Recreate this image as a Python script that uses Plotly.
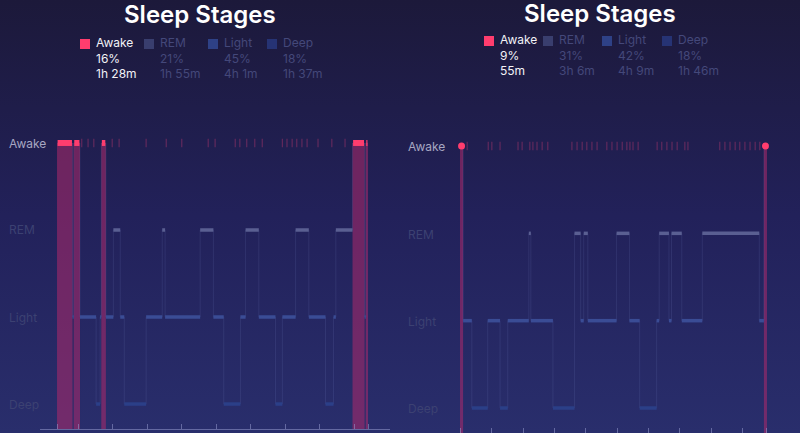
import base64
import plotly.graph_objects as go

# stage levels on the y axis
levels = {"Awake": 3, "REM": 2, "Light": 1, "Deep": 0}
stage_names = ["Awake", "REM", "Light", "Deep"]

# night 1 (left) - stage sequence and minutes spent in each
left_stages = ["Awake", "Light", "Awake", "Light", "Deep", "Light", "Awake", "Light", "REM", "Light",
               "Deep", "Light", "REM", "Light", "REM", "Light", "Deep", "Light", "REM", "Light",
               "Deep", "Light", "REM", "Light", "Deep", "Light", "REM", "Awake", "Light", "Awake"]
left_minutes = [27, 2, 11, 28, 7, 2, 8, 13, 12, 7, 38, 28, 5, 61, 23, 18, 29, 9, 23, 29,
                12, 23, 23, 29, 14, 4, 29, 21, 2, 4]
left_brief_wakes = [43, 54, 64, 96, 108, 155, 190, 217, 263, 275, 310, 318, 330, 344, 357,
                    392, 400, 409, 417, 426, 435, 454, 478, 501]
left_hour_ticks = [0, 37, 97, 157, 217, 277, 337, 397, 457, 517, 541]
left_pct = ["16%", "21%", "45%", "18%"]
left_dur = ["1h 28m", "1h 55m", "4h 1m", "1h 37m"]

# night 2 (right)
right_stages = ["Awake", "Light", "Deep", "Light", "Deep", "Light", "REM", "Light", "Deep", "REM",
                "Light", "REM", "Light", "REM", "Light", "Deep", "Light", "REM", "Light", "REM",
                "Light", "REM", "Light", "Awake"]
right_minutes = [6, 17, 31, 24, 15, 41, 4, 43, 42, 12, 6, 8, 56, 25, 20, 33, 5, 19, 5, 20,
                 40, 111, 9, 6]
right_brief_wakes = [14, 55, 62, 78, 113, 121, 136, 142, 150, 160, 171, 218, 228, 238, 247, 257,
                     267, 286, 296, 306, 316, 325, 331, 337, 347, 384, 393, 403, 413, 423, 438,
                     444, 506, 516, 526, 536, 545, 555, 565, 575, 584]
right_hour_ticks = [0, 62, 123, 184, 245, 306, 367, 428, 489, 550, 598]
right_pct = ["9%", "31%", "42%", "18%"]
right_dur = ["55m", "3h 6m", "4h 9m", "1h 46m"]

W, H = 800, 433
PINK = "#ff3d6e"
DIM = "#44487a"
line_col = {"REM": "#5a5f92", "Light": "#3a4c95", "Deep": "#2b3f88"}
swatch_col = {"Awake": PINK, "REM": "#393e6e", "Light": "#2e4186", "Deep": "#263374"}

fig = go.Figure()


def add_night(stages, minutes, wakes, xa, ya, bottom, cap_line):
    starts = []
    t = 0
    for m in minutes:
        starts.append(t)
        t += m
    ends = [s + m for s, m in zip(starts, minutes)]

    # thin step path through all stages
    fig.add_trace(go.Scatter(
        x=starts + [ends[-1]], y=[levels[s] for s in stages] + [levels[stages[-1]]],
        mode="lines", line=dict(shape="hv", width=1, color="rgba(120,130,195,0.16)"),
        xaxis=xa, yaxis=ya, hoverinfo="skip", showlegend=False))

    # thick horizontal pieces per stage
    for name in ["REM", "Light", "Deep"]:
        xs, ys = [], []
        for s, a, b in zip(stages, starts, ends):
            if s == name:
                xs += [a, b, None]
                ys += [levels[name]] * 2 + [None]
        fig.add_trace(go.Scatter(
            x=xs, y=ys, mode="lines", line=dict(width=3.5, color=line_col[name]),
            xaxis=xa, yaxis=ya, hoverinfo="skip", showlegend=False))

    # awake columns
    aw = [(a, b) for s, a, b in zip(stages, starts, ends) if s == "Awake"]
    fig.add_trace(go.Bar(
        x=[(a + b) / 2 for a, b in aw], width=[b - a for a, b in aw],
        base=bottom, y=[3 - bottom] * len(aw),
        marker=dict(color="rgba(175,42,108,0.55)", line=dict(width=0)),
        xaxis=xa, yaxis=ya, hoverinfo="skip", showlegend=False))

    # brief wake ticks at the top
    fig.add_trace(go.Scatter(
        x=wakes, y=[3] * len(wakes), mode="markers",
        marker=dict(symbol="line-ns", size=6, line=dict(width=1.2, color="rgba(205,60,115,0.38)")),
        xaxis=xa, yaxis=ya, hoverinfo="skip", showlegend=False))

    # bright caps
    if cap_line:
        xs, ys = [], []
        for a, b in aw:
            xs += [a + 1, b - 1, None]
            ys += [3, 3, None]
        fig.add_trace(go.Scatter(
            x=xs, y=ys, mode="lines", line=dict(width=6, color=PINK),
            xaxis=xa, yaxis=ya, hoverinfo="skip", showlegend=False))
    else:
        fig.add_trace(go.Scatter(
            x=[(a + b) / 2 for a, b in aw], y=[3] * len(aw), mode="markers",
            marker=dict(size=7, color=PINK),
            xaxis=xa, yaxis=ya, hoverinfo="skip", showlegend=False))


add_night(left_stages, left_minutes, left_brief_wakes, "x", "y", -0.287, True)
add_night(right_stages, right_minutes, right_brief_wakes, "x2", "y2", -0.286, False)

# vertical background gradient as an svg image
svg = ('<svg xmlns="http://www.w3.org/2000/svg" width="800" height="433">'
       '<defs><linearGradient id="g" x1="0" y1="0" x2="0" y2="1">'
       '<stop offset="0" stop-color="#1c193a"/><stop offset="0.5" stop-color="#22215a"/>'
       '<stop offset="1" stop-color="#292e6c"/></linearGradient></defs>'
       '<rect width="800" height="433" fill="url(#g)"/></svg>')
bg_src = "data:image/svg+xml;base64," + base64.b64encode(svg.encode()).decode()

shapes = []
annotations = []
font = "Inter, Roboto, sans-serif"


def px(xp, yp):
    return xp / W, 1 - yp / H


# titles
for cx, cy in [(200, 15), (600, 13)]:
    x, y = px(cx, cy)
    annotations.append(dict(text="Sleep Stages", x=x, y=y, xref="paper", yref="paper",
                            showarrow=False, xanchor="center", yanchor="middle", borderpad=0,
                            font=dict(family=font, size=24, color="white", weight=600)))

# legends: swatch x, text x, y of the three lines
legend_pos = [
    (left_pct, left_dur, [80, 144, 208, 267], [95, 159, 223, 282], [44, 58, 72]),
    (right_pct, right_dur, [484, 543, 602, 662], [499, 558, 617, 677], [41, 55, 68]),
]
for pct, dur, sw_x, tx_x, ly in legend_pos:
    for i, name in enumerate(stage_names):
        col = "#f2f2f7" if name == "Awake" else DIM
        x0, y0 = px(sw_x[i], ly[0] - 5)
        x1, y1 = px(sw_x[i] + 10, ly[0] + 5)
        shapes.append(dict(type="rect", xref="paper", yref="paper", x0=x0, x1=x1, y0=y1, y1=y0,
                           fillcolor=swatch_col[name], line=dict(width=0), layer="above"))
        x, y = px(tx_x[i], ly[1])
        annotations.append(dict(text="<br>".join([name, pct[i], dur[i]]), x=x, y=y,
                                xref="paper", yref="paper", align="left",
                                showarrow=False, xanchor="left", yanchor="middle", borderpad=0,
                                font=dict(family=font, size=12, color=col)))

# stage labels
for lx, ys in [(7, [143, 230, 317, 404]), (406, [146, 234, 321, 408])]:
    for name, yy in zip(stage_names, ys):
        x, y = px(lx, yy)
        annotations.append(dict(text=name, x=x, y=y, xref="paper", yref="paper",
                                showarrow=False, xanchor="left", yanchor="middle",
                                font=dict(family=font, size=12,
                                          color="#a7a7c2" if name == "Awake" else "#3c4172")))

axis_common = dict(showgrid=False, zeroline=False, showticklabels=False)
fig.update_layout(
    width=W, height=H, autosize=False, margin=dict(l=0, r=0, t=0, b=0, pad=0),
    paper_bgcolor="#1f1d48", plot_bgcolor="rgba(0,0,0,0)",
    barmode="overlay", showlegend=False,
    images=[dict(source=bg_src, xref="paper", yref="paper", x=0, y=1, sizex=1, sizey=1,
                 xanchor="left", yanchor="top", sizing="stretch", layer="below")],
    shapes=shapes, annotations=annotations,
    xaxis=dict(domain=[40 / W, 390 / W], range=[-29.6, 579.2], showline=True,
               linecolor="rgba(150,155,205,0.55)", linewidth=1,
               ticks="inside", ticklen=5, tickcolor="rgba(150,155,205,0.55)",
               tickvals=left_hour_ticks, **axis_common),
    yaxis=dict(domain=[1 - 429 / H, 1 - 130 / H], range=[-0.287, 3.149], **axis_common),
    xaxis2=dict(domain=[400 / W, 1], range=[-116.9, 662.3], showline=False,
                ticks="inside", ticklen=5, tickcolor="rgba(150,155,205,0.55)",
                tickvals=right_hour_ticks, anchor="y2", **axis_common),
    yaxis2=dict(domain=[0, 1 - 128 / H], range=[-0.286, 3.206], anchor="x2", **axis_common),
)

fig.write_html("out.html", config={"displayModeBar": False},
               post_script="document.body.style.margin='0';document.body.style.overflow='hidden';")
